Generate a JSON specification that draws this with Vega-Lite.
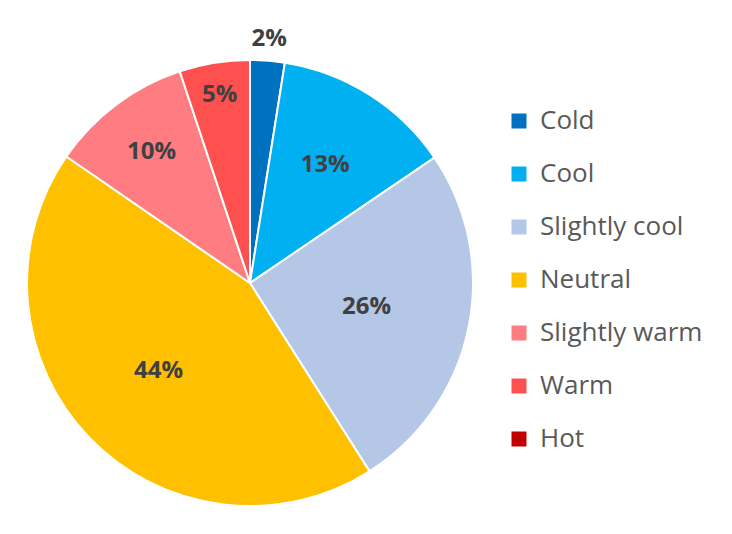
{
  "$schema": "https://vega.github.io/schema/vega-lite/v6.json",
  "width": 500,
  "height": 566,
  "padding": 0,
  "background": "white",
  "config": {"view": {"stroke": null}},
  "data": {
    "values": [
      {"idx": 1, "category": "Cold", "value": 2.5, "label": "2%"},
      {"idx": 2, "category": "Cool", "value": 13.0, "label": "13%"},
      {"idx": 3, "category": "Slightly cool", "value": 25.5, "label": "26%"},
      {"idx": 4, "category": "Neutral", "value": 43.6, "label": "44%"},
      {"idx": 5, "category": "Slightly warm", "value": 10.3, "label": "10%"},
      {"idx": 6, "category": "Warm", "value": 5.1, "label": "5%"},
      {"idx": 7, "category": "Hot", "value": 0, "label": ""}
    ]
  },
  "encoding": {
    "theta": {"field": "value", "type": "quantitative", "stack": true},
    "order": {"field": "idx", "type": "quantitative"}
  },
  "layer": [
    {
      "mark": {"type": "arc", "outerRadius": 223, "stroke": "white", "strokeWidth": 2},
      "encoding": {
        "color": {
          "field": "category",
          "type": "nominal",
          "scale": {
            "domain": ["Cold", "Cool", "Slightly cool", "Neutral", "Slightly warm", "Warm", "Hot"],
            "range": ["#0070c0", "#00b0f0", "#b4c7e7", "#ffc000", "#ff7c80", "#ff5050", "#c00000"]
          },
          "legend": {
            "title": null,
            "orient": "none",
            "legendX": 506,
            "legendY": 108,
            "symbolType": "square",
            "symbolSize": 225,
            "symbolStrokeWidth": 0,
            "labelFont": "Open Sans",
            "labelFontSize": 26,
            "labelColor": "#595959",
            "labelOffset": 8,
            "rowPadding": 27,
            "labelLimit": 300
          }
        }
      }
    },
    {
      "mark": {"type": "text", "font": "Open Sans", "fontSize": 24, "fontWeight": "bold", "fill": "#404040"},
      "encoding": {
        "text": {"field": "label"},
        "detail": {"field": "category", "type": "nominal"},
        "radius": {
          "field": "value",
          "type": "quantitative",
          "legend": null,
          "scale": {
            "type": "linear",
            "zero": false,
            "nice": false,
            "domain": [0, 2.5, 5.1, 10.3, 13, 25.5, 43.6],
            "range": [100, 245, 190, 164, 140, 119, 127]
          }
        }
      }
    }
  ]
}
